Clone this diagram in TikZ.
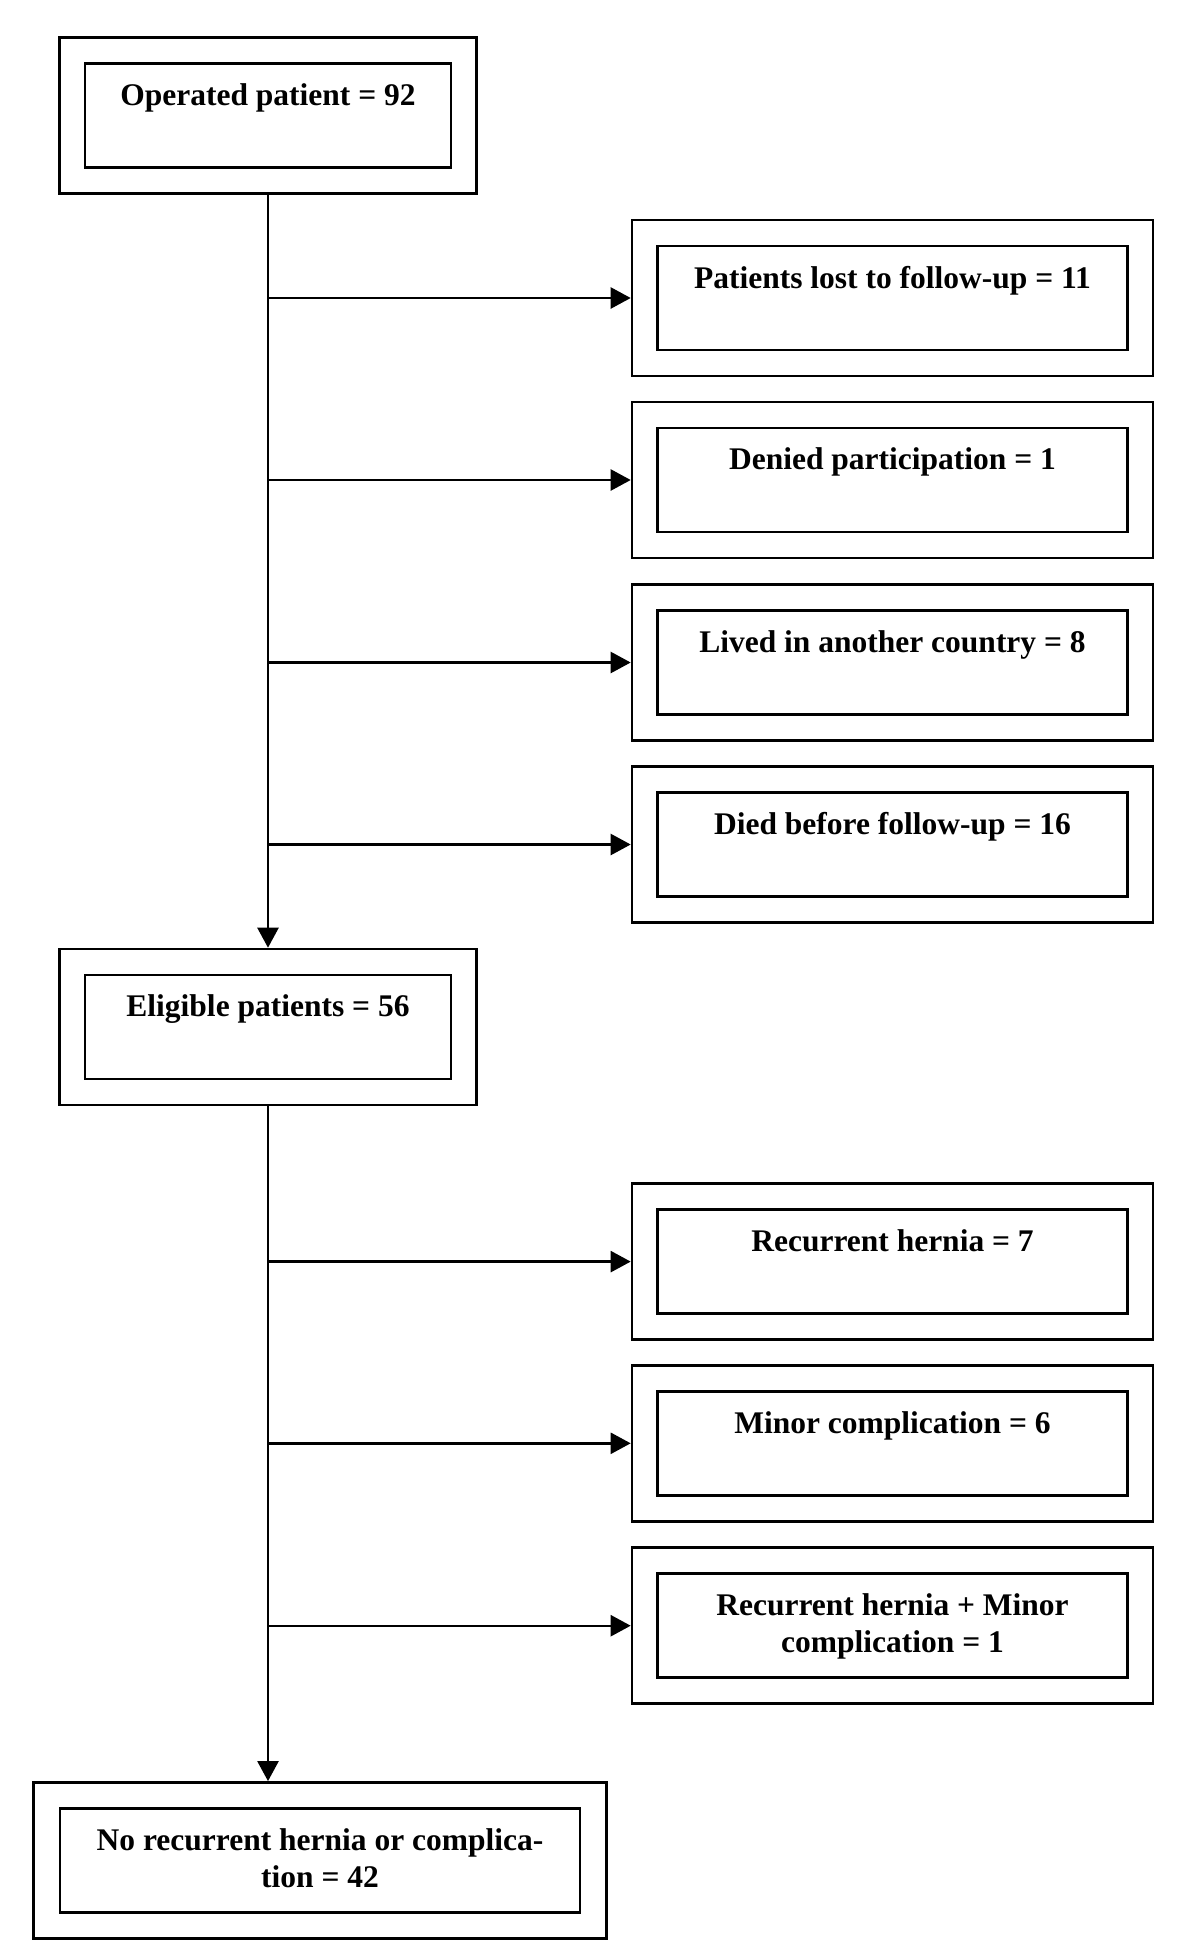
\documentclass[tikz,border=0pt]{standalone}
\usepackage{fontspec}
\setmainfont{Liberation Serif}
\usetikzlibrary{arrows.meta}
\tikzset{
  outerbox/.style={draw, line width=2.6pt, minimum height=156pt, inner sep=0pt},
  innerbox/.style={draw, line width=2.6pt, minimum height=104pt, inner sep=0pt},
  txt/.style={inner sep=0pt, align=center, font=\fontsize{31.5}{37}\selectfont\bfseries},
  conn/.style={line width=2.4pt},
  arr/.style={conn, -{Triangle[length=20pt,width=21pt]}}
}
\newcommand\flowbox[6]{%
  \node[outerbox, minimum width=#4pt] (#1) at (#2,#3) {};
  \node[innerbox, minimum width=#5pt] (#1i) at (#2,#3) {};
  \node[txt, anchor=north] (#1t) at ([yshift=-21pt]#1i.north) {#6};
}
\begin{document}
\begin{tikzpicture}[x=1pt,y=-1pt]
\useasboundingbox[fill=white] (0,0) rectangle (1200,1951);
\flowbox{op}{268}{115.7}{417}{366}{Operated patient = 92}
\flowbox{ra}{892.5}{298}{521}{470}{Patients lost to follow-up = 11}
\flowbox{rb}{892.5}{480}{521}{470}{Denied participation = 1}
\flowbox{rc}{892.5}{662.5}{521}{470}{Lived in another country = 8}
\flowbox{rd}{892.5}{844.5}{521}{470}{Died before follow-up = 16}
\flowbox{el}{268}{1027}{417}{366}{Eligible patients = 56}
\flowbox{re}{892.5}{1261.6}{521}{470}{Recurrent hernia = 7}
\flowbox{rf}{892.5}{1443.3}{521}{470}{Minor complication = 6}
\flowbox{rg}{892.5}{1625.7}{521}{470}{Recurrent hernia + Minor\\complication = 1}
\flowbox{nr}{320}{1860.4}{572.6}{520}{No recurrent hernia or complica-\\tion = 42}
\draw[arr] (op.south) -- (el.north);
\foreach \b in {ra,rb,rc,rd}{\draw[arr] (\b.west -| op.south) -- (\b.west);}
\draw[arr] (el.south) -- (el.south |- nr.north);
\foreach \b in {re,rf,rg}{\draw[arr] (\b.west -| el.south) -- (\b.west);}
\end{tikzpicture}
\end{document}
